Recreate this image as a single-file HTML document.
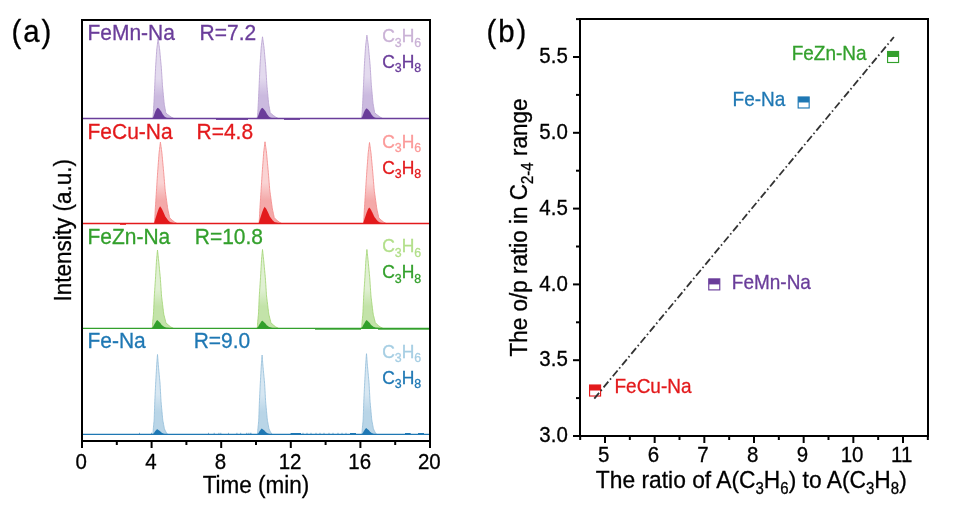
<!DOCTYPE html>
<html><head><meta charset="utf-8"><style>
html,body{margin:0;padding:0;background:#fff;width:953px;height:514px;overflow:hidden}
svg{display:block;will-change:transform}
text{font-family:"Liberation Sans", Arial, sans-serif;}
</style></head><body>
<svg width="953" height="514" viewBox="0 0 953 514">
<rect width="953" height="514" fill="#fff"/>

<defs><linearGradient id="g_purple" x1="0" y1="0" x2="0" y2="1"><stop offset="0" stop-color="#e3daee"/><stop offset="0.5" stop-color="#e3daee"/><stop offset="0.72" stop-color="#cbbadf"/><stop offset="1" stop-color="#cbbadf"/></linearGradient><linearGradient id="g_red" x1="0" y1="0" x2="0" y2="1"><stop offset="0" stop-color="#fad3d3"/><stop offset="0.5" stop-color="#fad3d3"/><stop offset="0.72" stop-color="#f4a9a9"/><stop offset="1" stop-color="#f4a9a9"/></linearGradient><linearGradient id="g_green" x1="0" y1="0" x2="0" y2="1"><stop offset="0" stop-color="#e0f0d3"/><stop offset="0.5" stop-color="#e0f0d3"/><stop offset="0.72" stop-color="#c3e3a9"/><stop offset="1" stop-color="#c3e3a9"/></linearGradient><linearGradient id="g_blue" x1="0" y1="0" x2="0" y2="1"><stop offset="0" stop-color="#d7e7f2"/><stop offset="0.5" stop-color="#d7e7f2"/><stop offset="0.72" stop-color="#b9d5e7"/><stop offset="1" stop-color="#b9d5e7"/></linearGradient></defs>
<path d="M152.52,118.50 L152.96,117.08 L153.11,115.65 L153.26,114.22 L153.39,112.80 L153.47,111.38 L153.54,109.95 L153.62,108.53 L153.70,107.10 L153.78,105.67 L153.86,104.25 L153.93,102.83 L154.00,101.40 L154.07,99.97 L154.14,98.55 L154.21,97.12 L154.27,95.70 L154.34,94.28 L154.41,92.85 L154.48,91.43 L154.55,90.00 L154.62,88.58 L154.69,87.15 L154.75,85.72 L154.82,84.30 L154.88,82.88 L154.95,81.45 L155.01,80.03 L155.08,78.60 L155.14,77.18 L155.21,75.75 L155.27,74.33 L155.34,72.90 L155.40,71.47 L155.47,70.05 L155.53,68.62 L155.60,67.20 L155.70,65.78 L155.79,64.35 L155.89,62.93 L155.98,61.50 L156.07,60.08 L156.17,58.65 L156.26,57.23 L156.35,55.80 L156.45,54.38 L156.54,52.95 L156.64,51.53 L156.73,50.10 L156.85,48.67 L157.03,47.25 L157.21,45.83 L157.38,44.40 L157.56,42.98 L157.74,41.55 L157.92,40.12 L158.10,38.70 L158.10,38.70 L158.30,40.12 L158.51,41.55 L158.71,42.98 L158.92,44.40 L159.12,45.83 L159.33,47.25 L159.53,48.67 L159.68,50.10 L159.82,51.53 L159.95,52.95 L160.08,54.38 L160.22,55.80 L160.35,57.23 L160.49,58.65 L160.62,60.08 L160.75,61.50 L160.89,62.93 L161.02,64.35 L161.15,65.78 L161.29,67.20 L161.38,68.62 L161.47,70.05 L161.56,71.47 L161.66,72.90 L161.75,74.33 L161.84,75.75 L161.93,77.18 L162.02,78.60 L162.11,80.03 L162.20,81.45 L162.29,82.88 L162.38,84.30 L162.47,85.72 L162.60,87.15 L162.74,88.58 L162.88,90.00 L163.01,91.43 L163.15,92.85 L163.29,94.28 L163.43,95.70 L163.56,97.12 L163.70,98.55 L163.84,99.97 L163.97,101.40 L164.11,102.83 L164.26,104.25 L164.52,105.67 L164.78,107.10 L165.04,108.53 L165.30,109.95 L165.56,111.38 L165.82,112.80 L167.19,114.22 L169.18,115.65 L171.17,117.08 L173.91,118.50 Z" fill="url(#g_purple)" stroke="#bba5d2" stroke-width="0.9"/>
<path d="M256.92,118.50 L257.36,117.04 L257.51,115.58 L257.66,114.12 L257.79,112.66 L257.87,111.21 L257.94,109.75 L258.02,108.29 L258.10,106.83 L258.18,105.37 L258.26,103.91 L258.33,102.45 L258.40,100.99 L258.47,99.53 L258.54,98.08 L258.61,96.62 L258.67,95.16 L258.74,93.70 L258.81,92.24 L258.88,90.78 L258.95,89.32 L259.02,87.86 L259.09,86.40 L259.15,84.94 L259.22,83.49 L259.28,82.03 L259.35,80.57 L259.41,79.11 L259.48,77.65 L259.54,76.19 L259.61,74.73 L259.67,73.27 L259.74,71.81 L259.80,70.36 L259.87,68.90 L259.93,67.44 L260.00,65.98 L260.10,64.52 L260.19,63.06 L260.29,61.60 L260.38,60.14 L260.47,58.68 L260.57,57.22 L260.66,55.77 L260.75,54.31 L260.85,52.85 L260.94,51.39 L261.04,49.93 L261.13,48.47 L261.25,47.01 L261.43,45.55 L261.61,44.09 L261.78,42.64 L261.96,41.18 L262.14,39.72 L262.32,38.26 L262.50,36.80 L262.50,36.80 L262.70,38.26 L262.91,39.72 L263.11,41.18 L263.32,42.64 L263.52,44.09 L263.73,45.55 L263.93,47.01 L264.08,48.47 L264.22,49.93 L264.35,51.39 L264.48,52.85 L264.62,54.31 L264.75,55.77 L264.89,57.22 L265.02,58.68 L265.15,60.14 L265.29,61.60 L265.42,63.06 L265.55,64.52 L265.69,65.98 L265.78,67.44 L265.87,68.90 L265.96,70.36 L266.06,71.81 L266.15,73.27 L266.24,74.73 L266.33,76.19 L266.42,77.65 L266.51,79.11 L266.60,80.57 L266.69,82.03 L266.78,83.49 L266.87,84.94 L267.00,86.40 L267.14,87.86 L267.28,89.32 L267.41,90.78 L267.55,92.24 L267.69,93.70 L267.83,95.16 L267.96,96.62 L268.10,98.08 L268.24,99.53 L268.37,100.99 L268.51,102.45 L268.66,103.91 L268.92,105.37 L269.18,106.83 L269.44,108.29 L269.70,109.75 L269.96,111.21 L270.22,112.66 L271.59,114.12 L273.58,115.58 L275.57,117.04 L278.31,118.50 Z" fill="url(#g_purple)" stroke="#bba5d2" stroke-width="0.9"/>
<path d="M361.32,118.50 L361.76,117.01 L361.91,115.53 L362.06,114.04 L362.19,112.55 L362.27,111.06 L362.34,109.58 L362.42,108.09 L362.50,106.60 L362.58,105.11 L362.66,103.62 L362.73,102.14 L362.80,100.65 L362.87,99.16 L362.94,97.67 L363.01,96.19 L363.07,94.70 L363.14,93.21 L363.21,91.73 L363.28,90.24 L363.35,88.75 L363.42,87.26 L363.49,85.78 L363.55,84.29 L363.62,82.80 L363.68,81.31 L363.75,79.83 L363.81,78.34 L363.88,76.85 L363.94,75.36 L364.01,73.88 L364.07,72.39 L364.14,70.90 L364.20,69.41 L364.27,67.93 L364.33,66.44 L364.40,64.95 L364.50,63.46 L364.59,61.98 L364.69,60.49 L364.78,59.00 L364.87,57.51 L364.97,56.03 L365.06,54.54 L365.15,53.05 L365.25,51.56 L365.34,50.08 L365.44,48.59 L365.53,47.10 L365.65,45.61 L365.83,44.13 L366.01,42.64 L366.18,41.15 L366.36,39.66 L366.54,38.18 L366.72,36.69 L366.90,35.20 L366.90,35.20 L367.10,36.69 L367.31,38.18 L367.51,39.66 L367.72,41.15 L367.92,42.64 L368.13,44.13 L368.33,45.61 L368.48,47.10 L368.62,48.59 L368.75,50.08 L368.88,51.56 L369.02,53.05 L369.15,54.54 L369.29,56.03 L369.42,57.51 L369.55,59.00 L369.69,60.49 L369.82,61.98 L369.95,63.46 L370.09,64.95 L370.18,66.44 L370.27,67.93 L370.36,69.41 L370.46,70.90 L370.55,72.39 L370.64,73.88 L370.73,75.36 L370.82,76.85 L370.91,78.34 L371.00,79.83 L371.09,81.31 L371.18,82.80 L371.27,84.29 L371.40,85.78 L371.54,87.26 L371.68,88.75 L371.81,90.24 L371.95,91.73 L372.09,93.21 L372.23,94.70 L372.36,96.19 L372.50,97.67 L372.64,99.16 L372.77,100.65 L372.91,102.14 L373.06,103.62 L373.32,105.11 L373.58,106.60 L373.84,108.09 L374.10,109.58 L374.36,111.06 L374.62,112.55 L375.99,114.04 L377.98,115.53 L379.97,117.01 L382.71,118.50 Z" fill="url(#g_purple)" stroke="#bba5d2" stroke-width="0.9"/>
<path d="M152.10,118.50 L152.55,118.31 L152.70,118.11 L152.86,117.92 L152.98,117.73 L153.07,117.54 L153.15,117.34 L153.23,117.15 L153.31,116.96 L153.39,116.76 L153.47,116.57 L153.54,116.38 L153.61,116.19 L153.68,115.99 L153.75,115.80 L153.82,115.61 L153.89,115.41 L153.96,115.22 L154.03,115.03 L154.10,114.84 L154.17,114.64 L154.24,114.45 L154.31,114.26 L154.38,114.06 L154.45,113.87 L154.52,113.68 L154.58,113.49 L154.65,113.29 L154.71,113.10 L154.78,112.91 L154.85,112.71 L154.91,112.52 L154.98,112.33 L155.05,112.14 L155.11,111.94 L155.18,111.75 L155.25,111.56 L155.35,111.36 L155.44,111.17 L155.54,110.98 L155.63,110.79 L155.73,110.59 L155.83,110.40 L155.92,110.21 L156.02,110.01 L156.11,109.82 L156.21,109.63 L156.31,109.44 L156.40,109.24 L156.52,109.05 L156.70,108.86 L156.89,108.66 L157.07,108.47 L157.25,108.28 L157.43,108.09 L157.62,107.89 L157.80,107.70 L157.80,107.70 L158.02,107.89 L158.25,108.09 L158.47,108.28 L158.70,108.47 L158.92,108.66 L159.15,108.86 L159.37,109.05 L159.54,109.24 L159.68,109.44 L159.83,109.63 L159.98,109.82 L160.12,110.01 L160.27,110.21 L160.42,110.40 L160.56,110.59 L160.71,110.79 L160.86,110.98 L161.00,111.17 L161.15,111.36 L161.30,111.56 L161.40,111.75 L161.50,111.94 L161.60,112.14 L161.70,112.33 L161.80,112.52 L161.90,112.71 L162.00,112.91 L162.10,113.10 L162.19,113.29 L162.29,113.49 L162.39,113.68 L162.49,113.87 L162.59,114.06 L162.74,114.26 L162.89,114.45 L163.04,114.64 L163.19,114.84 L163.34,115.03 L163.49,115.22 L163.64,115.41 L163.79,115.61 L163.94,115.80 L164.09,115.99 L164.24,116.19 L164.39,116.38 L164.55,116.57 L164.84,116.76 L165.12,116.96 L165.41,117.15 L165.70,117.34 L165.98,117.54 L166.27,117.73 L167.77,117.92 L169.95,118.11 L172.14,118.31 L175.14,118.50 Z" fill="#6a3d9a"/>
<path d="M256.50,118.50 L256.95,118.31 L257.10,118.11 L257.26,117.92 L257.38,117.73 L257.47,117.54 L257.55,117.34 L257.63,117.15 L257.71,116.96 L257.79,116.76 L257.87,116.57 L257.94,116.38 L258.01,116.19 L258.08,115.99 L258.15,115.80 L258.22,115.61 L258.29,115.41 L258.36,115.22 L258.43,115.03 L258.50,114.84 L258.57,114.64 L258.64,114.45 L258.71,114.26 L258.78,114.06 L258.85,113.87 L258.92,113.68 L258.98,113.49 L259.05,113.29 L259.11,113.10 L259.18,112.91 L259.25,112.71 L259.31,112.52 L259.38,112.33 L259.45,112.14 L259.51,111.94 L259.58,111.75 L259.65,111.56 L259.75,111.36 L259.84,111.17 L259.94,110.98 L260.03,110.79 L260.13,110.59 L260.23,110.40 L260.32,110.21 L260.42,110.01 L260.51,109.82 L260.61,109.63 L260.71,109.44 L260.80,109.24 L260.92,109.05 L261.10,108.86 L261.29,108.66 L261.47,108.47 L261.65,108.28 L261.83,108.09 L262.02,107.89 L262.20,107.70 L262.20,107.70 L262.42,107.89 L262.65,108.09 L262.87,108.28 L263.10,108.47 L263.32,108.66 L263.55,108.86 L263.77,109.05 L263.94,109.24 L264.08,109.44 L264.23,109.63 L264.38,109.82 L264.52,110.01 L264.67,110.21 L264.82,110.40 L264.96,110.59 L265.11,110.79 L265.26,110.98 L265.40,111.17 L265.55,111.36 L265.70,111.56 L265.80,111.75 L265.90,111.94 L266.00,112.14 L266.10,112.33 L266.20,112.52 L266.30,112.71 L266.40,112.91 L266.50,113.10 L266.59,113.29 L266.69,113.49 L266.79,113.68 L266.89,113.87 L266.99,114.06 L267.14,114.26 L267.29,114.45 L267.44,114.64 L267.59,114.84 L267.74,115.03 L267.89,115.22 L268.04,115.41 L268.19,115.61 L268.34,115.80 L268.49,115.99 L268.64,116.19 L268.79,116.38 L268.95,116.57 L269.24,116.76 L269.52,116.96 L269.81,117.15 L270.10,117.34 L270.38,117.54 L270.67,117.73 L272.17,117.92 L274.35,118.11 L276.54,118.31 L279.54,118.50 Z" fill="#6a3d9a"/>
<path d="M360.90,118.50 L361.35,118.32 L361.50,118.14 L361.66,117.95 L361.78,117.77 L361.87,117.59 L361.95,117.41 L362.03,117.22 L362.11,117.04 L362.19,116.86 L362.27,116.68 L362.34,116.50 L362.41,116.31 L362.48,116.13 L362.55,115.95 L362.62,115.77 L362.69,115.59 L362.76,115.40 L362.83,115.22 L362.90,115.04 L362.97,114.86 L363.04,114.67 L363.11,114.49 L363.18,114.31 L363.25,114.13 L363.32,113.95 L363.38,113.76 L363.45,113.58 L363.51,113.40 L363.58,113.22 L363.65,113.04 L363.71,112.85 L363.78,112.67 L363.85,112.49 L363.91,112.31 L363.98,112.12 L364.05,111.94 L364.15,111.76 L364.24,111.58 L364.34,111.40 L364.43,111.21 L364.53,111.03 L364.63,110.85 L364.72,110.67 L364.82,110.49 L364.91,110.30 L365.01,110.12 L365.11,109.94 L365.20,109.76 L365.32,109.58 L365.50,109.39 L365.69,109.21 L365.87,109.03 L366.05,108.85 L366.23,108.66 L366.42,108.48 L366.60,108.30 L366.60,108.30 L366.82,108.48 L367.05,108.66 L367.27,108.85 L367.50,109.03 L367.72,109.21 L367.95,109.39 L368.17,109.58 L368.34,109.76 L368.48,109.94 L368.63,110.12 L368.78,110.30 L368.92,110.49 L369.07,110.67 L369.22,110.85 L369.36,111.03 L369.51,111.21 L369.66,111.40 L369.80,111.58 L369.95,111.76 L370.10,111.94 L370.20,112.12 L370.30,112.31 L370.40,112.49 L370.50,112.67 L370.60,112.85 L370.70,113.04 L370.80,113.22 L370.90,113.40 L370.99,113.58 L371.09,113.76 L371.19,113.95 L371.29,114.13 L371.39,114.31 L371.54,114.49 L371.69,114.67 L371.84,114.86 L371.99,115.04 L372.14,115.22 L372.29,115.40 L372.44,115.59 L372.59,115.77 L372.74,115.95 L372.89,116.13 L373.04,116.31 L373.19,116.50 L373.35,116.68 L373.64,116.86 L373.92,117.04 L374.21,117.22 L374.50,117.41 L374.78,117.59 L375.07,117.77 L376.57,117.95 L378.75,118.14 L380.94,118.32 L383.94,118.50 Z" fill="#6a3d9a"/>
<line x1="83" y1="118.5" x2="429" y2="118.5" stroke="#6a3d9a" stroke-width="1.3"/>
<path d="M154.26,223.50 L154.58,222.05 L154.67,220.60 L154.76,219.14 L154.85,217.69 L154.92,216.24 L154.99,214.79 L155.06,213.34 L155.13,211.89 L155.21,210.43 L155.28,208.98 L155.37,207.53 L155.47,206.08 L155.56,204.63 L155.65,203.18 L155.75,201.72 L155.84,200.27 L155.93,198.82 L156.03,197.37 L156.12,195.92 L156.22,194.46 L156.31,193.01 L156.40,191.56 L156.50,190.11 L156.59,188.66 L156.69,187.21 L156.78,185.75 L156.87,184.30 L156.97,182.85 L157.06,181.40 L157.15,179.95 L157.25,178.49 L157.34,177.04 L157.44,175.59 L157.53,174.14 L157.62,172.69 L157.72,171.24 L157.83,169.78 L157.94,168.33 L158.05,166.88 L158.15,165.43 L158.26,163.98 L158.37,162.52 L158.48,161.07 L158.59,159.62 L158.70,158.17 L158.80,156.72 L158.91,155.27 L159.02,153.81 L159.15,152.36 L159.33,150.91 L159.51,149.46 L159.68,148.01 L159.86,146.56 L160.04,145.10 L160.22,143.65 L160.40,142.20 L160.40,142.20 L160.60,143.65 L160.81,145.10 L161.01,146.56 L161.22,148.01 L161.42,149.46 L161.63,150.91 L161.83,152.36 L161.98,153.81 L162.12,155.27 L162.25,156.72 L162.38,158.17 L162.52,159.62 L162.65,161.07 L162.79,162.52 L162.92,163.98 L163.05,165.43 L163.19,166.88 L163.32,168.33 L163.45,169.78 L163.59,171.24 L163.71,172.69 L163.83,174.14 L163.95,175.59 L164.07,177.04 L164.19,178.49 L164.30,179.95 L164.42,181.40 L164.54,182.85 L164.66,184.30 L164.78,185.75 L164.90,187.21 L165.02,188.66 L165.14,190.11 L165.34,191.56 L165.54,193.01 L165.74,194.46 L165.94,195.92 L166.15,197.37 L166.35,198.82 L166.55,200.27 L166.75,201.72 L166.95,203.18 L167.16,204.63 L167.36,206.08 L167.56,207.53 L167.77,208.98 L168.09,210.43 L168.41,211.89 L168.73,213.34 L169.04,214.79 L169.36,216.24 L169.68,217.69 L170.93,219.14 L172.71,220.60 L174.50,222.05 L177.14,223.50 Z" fill="url(#g_red)" stroke="#f48e8e" stroke-width="0.9"/>
<path d="M258.86,223.50 L259.18,222.04 L259.27,220.58 L259.36,219.12 L259.45,217.66 L259.52,216.21 L259.59,214.75 L259.66,213.29 L259.73,211.83 L259.81,210.37 L259.88,208.91 L259.97,207.45 L260.07,205.99 L260.16,204.53 L260.25,203.07 L260.35,201.62 L260.44,200.16 L260.53,198.70 L260.63,197.24 L260.72,195.78 L260.82,194.32 L260.91,192.86 L261.00,191.40 L261.10,189.94 L261.19,188.49 L261.29,187.03 L261.38,185.57 L261.47,184.11 L261.57,182.65 L261.66,181.19 L261.75,179.73 L261.85,178.27 L261.94,176.81 L262.04,175.36 L262.13,173.90 L262.22,172.44 L262.32,170.98 L262.43,169.52 L262.54,168.06 L262.65,166.60 L262.75,165.14 L262.86,163.68 L262.97,162.23 L263.08,160.77 L263.19,159.31 L263.30,157.85 L263.40,156.39 L263.51,154.93 L263.62,153.47 L263.75,152.01 L263.93,150.55 L264.11,149.09 L264.28,147.64 L264.46,146.18 L264.64,144.72 L264.82,143.26 L265.00,141.80 L265.00,141.80 L265.20,143.26 L265.41,144.72 L265.61,146.18 L265.82,147.64 L266.02,149.09 L266.23,150.55 L266.43,152.01 L266.58,153.47 L266.72,154.93 L266.85,156.39 L266.98,157.85 L267.12,159.31 L267.25,160.77 L267.39,162.23 L267.52,163.68 L267.65,165.14 L267.79,166.60 L267.92,168.06 L268.05,169.52 L268.19,170.98 L268.31,172.44 L268.43,173.90 L268.55,175.36 L268.67,176.81 L268.79,178.27 L268.90,179.73 L269.02,181.19 L269.14,182.65 L269.26,184.11 L269.38,185.57 L269.50,187.03 L269.62,188.49 L269.74,189.94 L269.94,191.40 L270.14,192.86 L270.34,194.32 L270.54,195.78 L270.75,197.24 L270.95,198.70 L271.15,200.16 L271.35,201.62 L271.55,203.07 L271.76,204.53 L271.96,205.99 L272.16,207.45 L272.37,208.91 L272.69,210.37 L273.01,211.83 L273.33,213.29 L273.64,214.75 L273.96,216.21 L274.28,217.66 L275.53,219.12 L277.31,220.58 L279.10,222.04 L281.74,223.50 Z" fill="url(#g_red)" stroke="#f48e8e" stroke-width="0.9"/>
<path d="M363.36,223.50 L363.68,222.05 L363.77,220.61 L363.86,219.16 L363.95,217.71 L364.02,216.27 L364.09,214.82 L364.16,213.38 L364.23,211.93 L364.31,210.48 L364.38,209.04 L364.47,207.59 L364.57,206.14 L364.66,204.70 L364.75,203.25 L364.85,201.80 L364.94,200.36 L365.03,198.91 L365.13,197.46 L365.22,196.02 L365.32,194.57 L365.41,193.12 L365.50,191.68 L365.60,190.23 L365.69,188.79 L365.79,187.34 L365.88,185.89 L365.97,184.45 L366.07,183.00 L366.16,181.55 L366.25,180.11 L366.35,178.66 L366.44,177.21 L366.54,175.77 L366.63,174.32 L366.72,172.88 L366.82,171.43 L366.93,169.98 L367.04,168.54 L367.15,167.09 L367.25,165.64 L367.36,164.20 L367.47,162.75 L367.58,161.30 L367.69,159.86 L367.80,158.41 L367.90,156.96 L368.01,155.52 L368.12,154.07 L368.25,152.62 L368.43,151.18 L368.61,149.73 L368.78,148.29 L368.96,146.84 L369.14,145.39 L369.32,143.95 L369.50,142.50 L369.50,142.50 L369.70,143.95 L369.91,145.39 L370.11,146.84 L370.32,148.29 L370.52,149.73 L370.73,151.18 L370.93,152.62 L371.08,154.07 L371.22,155.52 L371.35,156.96 L371.48,158.41 L371.62,159.86 L371.75,161.30 L371.89,162.75 L372.02,164.20 L372.15,165.64 L372.29,167.09 L372.42,168.54 L372.55,169.98 L372.69,171.43 L372.81,172.88 L372.93,174.32 L373.05,175.77 L373.17,177.21 L373.29,178.66 L373.40,180.11 L373.52,181.55 L373.64,183.00 L373.76,184.45 L373.88,185.89 L374.00,187.34 L374.12,188.79 L374.24,190.23 L374.44,191.68 L374.64,193.12 L374.84,194.57 L375.04,196.02 L375.25,197.46 L375.45,198.91 L375.65,200.36 L375.85,201.80 L376.05,203.25 L376.26,204.70 L376.46,206.14 L376.66,207.59 L376.87,209.04 L377.19,210.48 L377.51,211.93 L377.83,213.38 L378.14,214.82 L378.46,216.27 L378.78,217.71 L380.03,219.16 L381.81,220.61 L383.60,222.05 L386.24,223.50 Z" fill="url(#g_red)" stroke="#f48e8e" stroke-width="0.9"/>
<path d="M153.83,223.50 L154.16,223.19 L154.25,222.89 L154.34,222.58 L154.43,222.27 L154.50,221.96 L154.57,221.66 L154.65,221.35 L154.72,221.04 L154.80,220.74 L154.87,220.43 L154.96,220.12 L155.06,219.81 L155.15,219.51 L155.25,219.20 L155.35,218.89 L155.44,218.59 L155.54,218.28 L155.63,217.97 L155.73,217.66 L155.83,217.36 L155.92,217.05 L156.02,216.74 L156.11,216.44 L156.21,216.13 L156.31,215.82 L156.40,215.51 L156.50,215.21 L156.59,214.90 L156.69,214.59 L156.79,214.29 L156.88,213.98 L156.98,213.67 L157.07,213.36 L157.17,213.06 L157.26,212.75 L157.36,212.44 L157.47,212.14 L157.58,211.83 L157.69,211.52 L157.81,211.21 L157.92,210.91 L158.03,210.60 L158.14,210.29 L158.25,209.99 L158.36,209.68 L158.47,209.37 L158.58,209.06 L158.69,208.76 L158.82,208.45 L159.00,208.14 L159.19,207.84 L159.37,207.53 L159.55,207.22 L159.73,206.91 L159.92,206.61 L160.10,206.30 L160.10,206.30 L160.32,206.61 L160.55,206.91 L160.77,207.22 L161.00,207.53 L161.22,207.84 L161.45,208.14 L161.67,208.45 L161.84,208.76 L161.98,209.06 L162.13,209.37 L162.28,209.68 L162.42,209.99 L162.57,210.29 L162.72,210.60 L162.86,210.91 L163.01,211.21 L163.16,211.52 L163.30,211.83 L163.45,212.14 L163.60,212.44 L163.73,212.75 L163.86,213.06 L163.99,213.36 L164.12,213.67 L164.25,213.98 L164.38,214.29 L164.51,214.59 L164.64,214.90 L164.77,215.21 L164.90,215.51 L165.04,215.82 L165.17,216.13 L165.30,216.44 L165.51,216.74 L165.74,217.05 L165.96,217.36 L166.18,217.66 L166.40,217.97 L166.62,218.28 L166.85,218.59 L167.07,218.89 L167.29,219.20 L167.51,219.51 L167.73,219.81 L167.95,220.12 L168.19,220.43 L168.53,220.74 L168.88,221.04 L169.23,221.35 L169.58,221.66 L169.93,221.96 L170.28,222.27 L171.65,222.58 L173.61,222.89 L175.56,223.19 L178.46,223.50 Z" fill="#e31a1c"/>
<path d="M258.43,223.50 L258.76,223.20 L258.85,222.90 L258.94,222.61 L259.03,222.31 L259.10,222.01 L259.17,221.71 L259.25,221.41 L259.32,221.11 L259.40,220.82 L259.47,220.52 L259.56,220.22 L259.66,219.92 L259.75,219.62 L259.85,219.32 L259.95,219.03 L260.04,218.73 L260.14,218.43 L260.23,218.13 L260.33,217.83 L260.43,217.54 L260.52,217.24 L260.62,216.94 L260.71,216.64 L260.81,216.34 L260.91,216.04 L261.00,215.75 L261.10,215.45 L261.19,215.15 L261.29,214.85 L261.39,214.55 L261.48,214.26 L261.58,213.96 L261.67,213.66 L261.77,213.36 L261.86,213.06 L261.96,212.76 L262.07,212.47 L262.18,212.17 L262.29,211.87 L262.41,211.57 L262.52,211.27 L262.63,210.98 L262.74,210.68 L262.85,210.38 L262.96,210.08 L263.07,209.78 L263.18,209.48 L263.29,209.19 L263.42,208.89 L263.60,208.59 L263.79,208.29 L263.97,207.99 L264.15,207.69 L264.33,207.40 L264.52,207.10 L264.70,206.80 L264.70,206.80 L264.92,207.10 L265.15,207.40 L265.37,207.69 L265.60,207.99 L265.82,208.29 L266.05,208.59 L266.27,208.89 L266.44,209.19 L266.58,209.48 L266.73,209.78 L266.88,210.08 L267.02,210.38 L267.17,210.68 L267.32,210.98 L267.46,211.27 L267.61,211.57 L267.76,211.87 L267.90,212.17 L268.05,212.47 L268.20,212.76 L268.33,213.06 L268.46,213.36 L268.59,213.66 L268.72,213.96 L268.85,214.26 L268.98,214.55 L269.11,214.85 L269.24,215.15 L269.37,215.45 L269.50,215.75 L269.64,216.04 L269.77,216.34 L269.90,216.64 L270.11,216.94 L270.34,217.24 L270.56,217.54 L270.78,217.83 L271.00,218.13 L271.22,218.43 L271.45,218.73 L271.67,219.03 L271.89,219.32 L272.11,219.62 L272.33,219.92 L272.55,220.22 L272.79,220.52 L273.13,220.82 L273.48,221.11 L273.83,221.41 L274.18,221.71 L274.53,222.01 L274.88,222.31 L276.25,222.61 L278.21,222.90 L280.16,223.20 L283.06,223.50 Z" fill="#e31a1c"/>
<path d="M362.93,223.50 L363.26,223.21 L363.35,222.93 L363.44,222.64 L363.53,222.35 L363.60,222.06 L363.67,221.78 L363.75,221.49 L363.82,221.20 L363.90,220.91 L363.97,220.62 L364.06,220.34 L364.16,220.05 L364.25,219.76 L364.35,219.47 L364.45,219.19 L364.54,218.90 L364.64,218.61 L364.73,218.32 L364.83,218.04 L364.93,217.75 L365.02,217.46 L365.12,217.18 L365.21,216.89 L365.31,216.60 L365.41,216.31 L365.50,216.03 L365.60,215.74 L365.69,215.45 L365.79,215.16 L365.89,214.88 L365.98,214.59 L366.08,214.30 L366.17,214.01 L366.27,213.72 L366.36,213.44 L366.46,213.15 L366.57,212.86 L366.68,212.58 L366.79,212.29 L366.91,212.00 L367.02,211.71 L367.13,211.43 L367.24,211.14 L367.35,210.85 L367.46,210.56 L367.57,210.28 L367.68,209.99 L367.79,209.70 L367.92,209.41 L368.10,209.12 L368.29,208.84 L368.47,208.55 L368.65,208.26 L368.83,207.97 L369.02,207.69 L369.20,207.40 L369.20,207.40 L369.42,207.69 L369.65,207.97 L369.87,208.26 L370.10,208.55 L370.32,208.84 L370.55,209.12 L370.77,209.41 L370.94,209.70 L371.08,209.99 L371.23,210.28 L371.38,210.56 L371.52,210.85 L371.67,211.14 L371.82,211.43 L371.96,211.71 L372.11,212.00 L372.26,212.29 L372.40,212.58 L372.55,212.86 L372.70,213.15 L372.83,213.44 L372.96,213.72 L373.09,214.01 L373.22,214.30 L373.35,214.59 L373.48,214.88 L373.61,215.16 L373.74,215.45 L373.87,215.74 L374.00,216.03 L374.14,216.31 L374.27,216.60 L374.40,216.89 L374.61,217.18 L374.84,217.46 L375.06,217.75 L375.28,218.04 L375.50,218.32 L375.72,218.61 L375.95,218.90 L376.17,219.19 L376.39,219.47 L376.61,219.76 L376.83,220.05 L377.05,220.34 L377.29,220.62 L377.63,220.91 L377.98,221.20 L378.33,221.49 L378.68,221.78 L379.03,222.06 L379.38,222.35 L380.75,222.64 L382.71,222.93 L384.66,223.21 L387.56,223.50 Z" fill="#e31a1c"/>
<line x1="83" y1="223.5" x2="429" y2="223.5" stroke="#e31a1c" stroke-width="1.3"/>
<path d="M152.11,328.30 L152.41,326.90 L152.47,325.51 L152.53,324.11 L152.62,322.71 L152.76,321.32 L152.89,319.92 L153.03,318.53 L153.17,317.13 L153.31,315.73 L153.44,314.34 L153.51,312.94 L153.58,311.54 L153.64,310.15 L153.71,308.75 L153.77,307.35 L153.84,305.96 L153.90,304.56 L153.97,303.16 L154.03,301.77 L154.10,300.37 L154.16,298.98 L154.23,297.58 L154.30,296.18 L154.39,294.79 L154.48,293.39 L154.58,291.99 L154.67,290.60 L154.76,289.20 L154.86,287.80 L154.95,286.41 L155.05,285.01 L155.14,283.61 L155.23,282.22 L155.33,280.82 L155.42,279.43 L155.51,278.03 L155.59,276.63 L155.67,275.24 L155.75,273.84 L155.83,272.44 L155.91,271.05 L155.99,269.65 L156.07,268.25 L156.15,266.86 L156.23,265.46 L156.31,264.06 L156.39,262.67 L156.47,261.27 L156.56,259.88 L156.70,258.48 L156.83,257.08 L156.96,255.69 L157.10,254.29 L157.23,252.89 L157.37,251.50 L157.50,250.10 L157.50,250.10 L157.65,251.50 L157.81,252.89 L157.96,254.29 L158.11,255.69 L158.27,257.08 L158.42,258.48 L158.57,259.88 L158.71,261.27 L158.85,262.67 L158.98,264.06 L159.11,265.46 L159.25,266.86 L159.38,268.25 L159.51,269.65 L159.65,271.05 L159.78,272.44 L159.91,273.84 L160.05,275.24 L160.18,276.63 L160.32,278.03 L160.42,279.43 L160.51,280.82 L160.60,282.22 L160.70,283.61 L160.79,285.01 L160.88,286.41 L160.98,287.80 L161.07,289.20 L161.17,290.60 L161.26,291.99 L161.35,293.39 L161.45,294.79 L161.54,296.18 L161.71,297.58 L161.89,298.98 L162.06,300.37 L162.23,301.77 L162.41,303.16 L162.58,304.56 L162.75,305.96 L162.92,307.35 L163.10,308.75 L163.27,310.15 L163.44,311.54 L163.62,312.94 L163.81,314.34 L164.16,315.73 L164.51,317.13 L164.87,318.53 L165.22,319.92 L165.57,321.32 L165.93,322.71 L167.18,324.11 L168.93,325.51 L170.68,326.90 L173.31,328.30 Z" fill="url(#g_green)" stroke="#a5d678" stroke-width="0.9"/>
<path d="M257.11,328.30 L257.41,326.89 L257.47,325.49 L257.53,324.08 L257.62,322.67 L257.76,321.26 L257.89,319.86 L258.03,318.45 L258.17,317.04 L258.31,315.64 L258.44,314.23 L258.51,312.82 L258.58,311.41 L258.64,310.01 L258.71,308.60 L258.77,307.19 L258.84,305.79 L258.90,304.38 L258.97,302.97 L259.03,301.56 L259.10,300.16 L259.16,298.75 L259.23,297.34 L259.30,295.94 L259.39,294.53 L259.48,293.12 L259.58,291.71 L259.67,290.31 L259.76,288.90 L259.86,287.49 L259.95,286.09 L260.05,284.68 L260.14,283.27 L260.23,281.86 L260.33,280.46 L260.42,279.05 L260.51,277.64 L260.59,276.24 L260.67,274.83 L260.75,273.42 L260.83,272.01 L260.91,270.61 L260.99,269.20 L261.07,267.79 L261.15,266.39 L261.23,264.98 L261.31,263.57 L261.39,262.16 L261.47,260.76 L261.56,259.35 L261.70,257.94 L261.83,256.54 L261.96,255.13 L262.10,253.72 L262.23,252.31 L262.37,250.91 L262.50,249.50 L262.50,249.50 L262.65,250.91 L262.81,252.31 L262.96,253.72 L263.11,255.13 L263.27,256.54 L263.42,257.94 L263.57,259.35 L263.71,260.76 L263.85,262.16 L263.98,263.57 L264.11,264.98 L264.25,266.39 L264.38,267.79 L264.51,269.20 L264.65,270.61 L264.78,272.01 L264.91,273.42 L265.05,274.83 L265.18,276.24 L265.32,277.64 L265.42,279.05 L265.51,280.46 L265.60,281.86 L265.70,283.27 L265.79,284.68 L265.88,286.09 L265.98,287.49 L266.07,288.90 L266.17,290.31 L266.26,291.71 L266.35,293.12 L266.45,294.53 L266.54,295.94 L266.71,297.34 L266.89,298.75 L267.06,300.16 L267.23,301.56 L267.41,302.97 L267.58,304.38 L267.75,305.79 L267.92,307.19 L268.10,308.60 L268.27,310.01 L268.44,311.41 L268.62,312.82 L268.81,314.23 L269.16,315.64 L269.51,317.04 L269.87,318.45 L270.22,319.86 L270.57,321.26 L270.93,322.67 L272.18,324.08 L273.93,325.49 L275.68,326.89 L278.31,328.30 Z" fill="url(#g_green)" stroke="#a5d678" stroke-width="0.9"/>
<path d="M361.51,328.30 L361.81,326.89 L361.87,325.49 L361.93,324.08 L362.02,322.67 L362.16,321.26 L362.29,319.86 L362.43,318.45 L362.57,317.04 L362.71,315.64 L362.84,314.23 L362.91,312.82 L362.98,311.41 L363.04,310.01 L363.11,308.60 L363.17,307.19 L363.24,305.79 L363.30,304.38 L363.37,302.97 L363.43,301.56 L363.50,300.16 L363.56,298.75 L363.63,297.34 L363.70,295.94 L363.79,294.53 L363.88,293.12 L363.98,291.71 L364.07,290.31 L364.16,288.90 L364.26,287.49 L364.35,286.09 L364.45,284.68 L364.54,283.27 L364.63,281.86 L364.73,280.46 L364.82,279.05 L364.91,277.64 L364.99,276.24 L365.07,274.83 L365.15,273.42 L365.23,272.01 L365.31,270.61 L365.39,269.20 L365.47,267.79 L365.55,266.39 L365.63,264.98 L365.71,263.57 L365.79,262.16 L365.87,260.76 L365.96,259.35 L366.10,257.94 L366.23,256.54 L366.36,255.13 L366.50,253.72 L366.63,252.31 L366.77,250.91 L366.90,249.50 L366.90,249.50 L367.05,250.91 L367.21,252.31 L367.36,253.72 L367.51,255.13 L367.67,256.54 L367.82,257.94 L367.97,259.35 L368.11,260.76 L368.25,262.16 L368.38,263.57 L368.51,264.98 L368.65,266.39 L368.78,267.79 L368.91,269.20 L369.05,270.61 L369.18,272.01 L369.31,273.42 L369.45,274.83 L369.58,276.24 L369.72,277.64 L369.82,279.05 L369.91,280.46 L370.00,281.86 L370.10,283.27 L370.19,284.68 L370.28,286.09 L370.38,287.49 L370.47,288.90 L370.57,290.31 L370.66,291.71 L370.75,293.12 L370.85,294.53 L370.94,295.94 L371.11,297.34 L371.29,298.75 L371.46,300.16 L371.63,301.56 L371.81,302.97 L371.98,304.38 L372.15,305.79 L372.32,307.19 L372.50,308.60 L372.67,310.01 L372.84,311.41 L373.02,312.82 L373.21,314.23 L373.56,315.64 L373.91,317.04 L374.27,318.45 L374.62,319.86 L374.97,321.26 L375.33,322.67 L376.58,324.08 L378.33,325.49 L380.08,326.89 L382.71,328.30 Z" fill="url(#g_green)" stroke="#a5d678" stroke-width="0.9"/>
<path d="M151.69,328.30 L152.00,328.15 L152.06,328.00 L152.13,327.86 L152.22,327.71 L152.36,327.56 L152.50,327.41 L152.64,327.26 L152.78,327.11 L152.92,326.97 L153.06,326.82 L153.13,326.67 L153.19,326.52 L153.26,326.37 L153.33,326.23 L153.39,326.08 L153.46,325.93 L153.53,325.78 L153.59,325.63 L153.66,325.48 L153.73,325.34 L153.79,325.19 L153.86,325.04 L153.93,324.89 L154.02,324.74 L154.12,324.59 L154.21,324.45 L154.31,324.30 L154.41,324.15 L154.50,324.00 L154.60,323.85 L154.69,323.71 L154.79,323.56 L154.89,323.41 L154.98,323.26 L155.08,323.11 L155.17,322.96 L155.25,322.82 L155.33,322.67 L155.41,322.52 L155.50,322.37 L155.58,322.22 L155.66,322.07 L155.74,321.93 L155.82,321.78 L155.90,321.63 L155.98,321.48 L156.06,321.33 L156.14,321.19 L156.24,321.04 L156.38,320.89 L156.51,320.74 L156.65,320.59 L156.79,320.44 L156.93,320.30 L157.06,320.15 L157.20,320.00 L157.20,320.00 L157.37,320.15 L157.54,320.30 L157.70,320.44 L157.87,320.59 L158.04,320.74 L158.21,320.89 L158.38,321.04 L158.53,321.19 L158.68,321.33 L158.82,321.48 L158.97,321.63 L159.12,321.78 L159.26,321.93 L159.41,322.07 L159.56,322.22 L159.70,322.37 L159.85,322.52 L159.99,322.67 L160.14,322.82 L160.29,322.96 L160.40,323.11 L160.50,323.26 L160.60,323.41 L160.71,323.56 L160.81,323.71 L160.91,323.85 L161.02,324.00 L161.12,324.15 L161.22,324.30 L161.32,324.45 L161.43,324.59 L161.53,324.74 L161.63,324.89 L161.82,325.04 L162.01,325.19 L162.20,325.34 L162.39,325.48 L162.58,325.63 L162.77,325.78 L162.96,325.93 L163.15,326.08 L163.34,326.23 L163.53,326.37 L163.72,326.52 L163.91,326.67 L164.12,326.82 L164.50,326.97 L164.89,327.11 L165.28,327.26 L165.67,327.41 L166.06,327.56 L166.44,327.71 L167.81,327.86 L169.73,328.00 L171.65,328.15 L174.54,328.30 Z" fill="#33a02c"/>
<path d="M256.69,328.30 L257.00,328.16 L257.06,328.03 L257.13,327.89 L257.22,327.75 L257.36,327.61 L257.50,327.48 L257.64,327.34 L257.78,327.20 L257.92,327.06 L258.06,326.93 L258.13,326.79 L258.19,326.65 L258.26,326.51 L258.33,326.38 L258.39,326.24 L258.46,326.10 L258.53,325.96 L258.59,325.82 L258.66,325.69 L258.73,325.55 L258.79,325.41 L258.86,325.28 L258.93,325.14 L259.02,325.00 L259.12,324.86 L259.21,324.73 L259.31,324.59 L259.41,324.45 L259.50,324.31 L259.60,324.18 L259.69,324.04 L259.79,323.90 L259.89,323.76 L259.98,323.62 L260.08,323.49 L260.17,323.35 L260.25,323.21 L260.33,323.08 L260.41,322.94 L260.50,322.80 L260.58,322.66 L260.66,322.53 L260.74,322.39 L260.82,322.25 L260.90,322.11 L260.98,321.98 L261.06,321.84 L261.14,321.70 L261.24,321.56 L261.38,321.43 L261.51,321.29 L261.65,321.15 L261.79,321.01 L261.93,320.88 L262.06,320.74 L262.20,320.60 L262.20,320.60 L262.37,320.74 L262.54,320.88 L262.70,321.01 L262.87,321.15 L263.04,321.29 L263.21,321.43 L263.38,321.56 L263.53,321.70 L263.68,321.84 L263.82,321.98 L263.97,322.11 L264.12,322.25 L264.26,322.39 L264.41,322.53 L264.56,322.66 L264.70,322.80 L264.85,322.94 L264.99,323.08 L265.14,323.21 L265.29,323.35 L265.40,323.49 L265.50,323.62 L265.60,323.76 L265.71,323.90 L265.81,324.04 L265.91,324.18 L266.02,324.31 L266.12,324.45 L266.22,324.59 L266.32,324.73 L266.43,324.86 L266.53,325.00 L266.63,325.14 L266.82,325.28 L267.01,325.41 L267.20,325.55 L267.39,325.69 L267.58,325.82 L267.77,325.96 L267.96,326.10 L268.15,326.24 L268.34,326.38 L268.53,326.51 L268.72,326.65 L268.91,326.79 L269.12,326.93 L269.50,327.06 L269.89,327.20 L270.28,327.34 L270.67,327.48 L271.06,327.61 L271.44,327.75 L272.81,327.89 L274.73,328.03 L276.65,328.16 L279.54,328.30 Z" fill="#33a02c"/>
<path d="M361.09,328.30 L361.40,328.15 L361.46,328.00 L361.53,327.86 L361.62,327.71 L361.76,327.56 L361.90,327.41 L362.04,327.26 L362.18,327.11 L362.32,326.97 L362.46,326.82 L362.53,326.67 L362.59,326.52 L362.66,326.37 L362.73,326.23 L362.79,326.08 L362.86,325.93 L362.93,325.78 L362.99,325.63 L363.06,325.48 L363.13,325.34 L363.19,325.19 L363.26,325.04 L363.33,324.89 L363.42,324.74 L363.52,324.59 L363.61,324.45 L363.71,324.30 L363.81,324.15 L363.90,324.00 L364.00,323.85 L364.09,323.71 L364.19,323.56 L364.29,323.41 L364.38,323.26 L364.48,323.11 L364.57,322.96 L364.65,322.82 L364.73,322.67 L364.81,322.52 L364.90,322.37 L364.98,322.22 L365.06,322.07 L365.14,321.93 L365.22,321.78 L365.30,321.63 L365.38,321.48 L365.46,321.33 L365.54,321.19 L365.64,321.04 L365.78,320.89 L365.91,320.74 L366.05,320.59 L366.19,320.44 L366.33,320.30 L366.46,320.15 L366.60,320.00 L366.60,320.00 L366.77,320.15 L366.94,320.30 L367.10,320.44 L367.27,320.59 L367.44,320.74 L367.61,320.89 L367.78,321.04 L367.93,321.19 L368.08,321.33 L368.22,321.48 L368.37,321.63 L368.52,321.78 L368.66,321.93 L368.81,322.07 L368.96,322.22 L369.10,322.37 L369.25,322.52 L369.39,322.67 L369.54,322.82 L369.69,322.96 L369.80,323.11 L369.90,323.26 L370.00,323.41 L370.11,323.56 L370.21,323.71 L370.31,323.85 L370.42,324.00 L370.52,324.15 L370.62,324.30 L370.72,324.45 L370.83,324.59 L370.93,324.74 L371.03,324.89 L371.22,325.04 L371.41,325.19 L371.60,325.34 L371.79,325.48 L371.98,325.63 L372.17,325.78 L372.36,325.93 L372.55,326.08 L372.74,326.23 L372.93,326.37 L373.12,326.52 L373.31,326.67 L373.52,326.82 L373.90,326.97 L374.29,327.11 L374.68,327.26 L375.07,327.41 L375.46,327.56 L375.84,327.71 L377.21,327.86 L379.13,328.00 L381.05,328.15 L383.94,328.30 Z" fill="#33a02c"/>
<line x1="83" y1="328.3" x2="429" y2="328.3" stroke="#33a02c" stroke-width="1.3"/>
<path d="M152.85,434.40 L153.07,432.97 L153.14,431.55 L153.22,430.12 L153.32,428.69 L153.46,427.27 L153.59,425.84 L153.73,424.41 L153.87,422.99 L154.00,421.56 L154.14,420.13 L154.20,418.71 L154.25,417.28 L154.30,415.85 L154.35,414.42 L154.40,413.00 L154.45,411.57 L154.50,410.14 L154.55,408.72 L154.60,407.29 L154.65,405.86 L154.70,404.44 L154.75,403.01 L154.81,401.58 L154.87,400.16 L154.94,398.73 L155.01,397.30 L155.08,395.88 L155.15,394.45 L155.22,393.02 L155.29,391.60 L155.35,390.17 L155.42,388.74 L155.49,387.32 L155.56,385.89 L155.63,384.46 L155.70,383.04 L155.78,381.61 L155.86,380.18 L155.94,378.76 L156.02,377.33 L156.10,375.90 L156.18,374.48 L156.26,373.05 L156.33,371.62 L156.41,370.19 L156.49,368.77 L156.57,367.34 L156.65,365.91 L156.74,364.49 L156.85,363.06 L156.96,361.63 L157.07,360.21 L157.17,358.78 L157.28,357.35 L157.39,355.93 L157.50,354.50 L157.50,354.50 L157.61,355.93 L157.72,357.35 L157.83,358.78 L157.93,360.21 L158.04,361.63 L158.15,363.06 L158.26,364.49 L158.39,365.91 L158.52,367.34 L158.65,368.77 L158.79,370.19 L158.92,371.62 L159.05,373.05 L159.19,374.48 L159.32,375.90 L159.46,377.33 L159.59,378.76 L159.72,380.18 L159.86,381.61 L159.99,383.04 L160.08,384.46 L160.16,385.89 L160.24,387.32 L160.32,388.74 L160.40,390.17 L160.47,391.60 L160.55,393.02 L160.63,394.45 L160.71,395.88 L160.79,397.30 L160.87,398.73 L160.95,400.16 L161.03,401.58 L161.16,403.01 L161.30,404.44 L161.43,405.86 L161.56,407.29 L161.70,408.72 L161.83,410.14 L161.96,411.57 L162.10,413.00 L162.23,414.42 L162.36,415.85 L162.50,417.28 L162.63,418.71 L162.78,420.13 L163.04,421.56 L163.31,422.99 L163.58,424.41 L163.84,425.84 L164.11,427.27 L164.38,428.69 L164.96,430.12 L165.71,431.55 L166.47,432.97 L167.73,434.40 Z" fill="url(#g_blue)" stroke="#98c1db" stroke-width="0.9"/>
<path d="M257.45,434.40 L257.67,432.98 L257.74,431.57 L257.82,430.15 L257.92,428.74 L258.06,427.32 L258.19,425.90 L258.33,424.49 L258.47,423.07 L258.60,421.66 L258.74,420.24 L258.80,418.82 L258.85,417.41 L258.90,415.99 L258.95,414.57 L259.00,413.16 L259.05,411.74 L259.10,410.33 L259.15,408.91 L259.20,407.49 L259.25,406.08 L259.30,404.66 L259.35,403.25 L259.41,401.83 L259.47,400.41 L259.54,399.00 L259.61,397.58 L259.68,396.17 L259.75,394.75 L259.82,393.33 L259.89,391.92 L259.95,390.50 L260.02,389.09 L260.09,387.67 L260.16,386.25 L260.23,384.84 L260.30,383.42 L260.38,382.01 L260.46,380.59 L260.54,379.17 L260.62,377.76 L260.70,376.34 L260.78,374.93 L260.86,373.51 L260.93,372.09 L261.01,370.68 L261.09,369.26 L261.17,367.84 L261.25,366.43 L261.34,365.01 L261.45,363.60 L261.56,362.18 L261.67,360.76 L261.77,359.35 L261.88,357.93 L261.99,356.52 L262.10,355.10 L262.10,355.10 L262.21,356.52 L262.32,357.93 L262.43,359.35 L262.53,360.76 L262.64,362.18 L262.75,363.60 L262.86,365.01 L262.99,366.43 L263.12,367.84 L263.25,369.26 L263.39,370.68 L263.52,372.09 L263.65,373.51 L263.79,374.93 L263.92,376.34 L264.06,377.76 L264.19,379.17 L264.32,380.59 L264.46,382.01 L264.59,383.42 L264.68,384.84 L264.76,386.25 L264.84,387.67 L264.92,389.09 L265.00,390.50 L265.07,391.92 L265.15,393.33 L265.23,394.75 L265.31,396.17 L265.39,397.58 L265.47,399.00 L265.55,400.41 L265.63,401.83 L265.76,403.25 L265.90,404.66 L266.03,406.08 L266.16,407.49 L266.30,408.91 L266.43,410.33 L266.56,411.74 L266.70,413.16 L266.83,414.57 L266.96,415.99 L267.10,417.41 L267.23,418.82 L267.38,420.24 L267.64,421.66 L267.91,423.07 L268.18,424.49 L268.44,425.90 L268.71,427.32 L268.98,428.74 L269.56,430.15 L270.31,431.57 L271.07,432.98 L272.33,434.40 Z" fill="url(#g_blue)" stroke="#98c1db" stroke-width="0.9"/>
<path d="M361.85,434.40 L362.07,432.96 L362.14,431.52 L362.22,430.08 L362.32,428.64 L362.46,427.19 L362.59,425.75 L362.73,424.31 L362.87,422.87 L363.00,421.43 L363.14,419.99 L363.20,418.55 L363.25,417.11 L363.30,415.67 L363.35,414.22 L363.40,412.78 L363.45,411.34 L363.50,409.90 L363.55,408.46 L363.60,407.02 L363.65,405.58 L363.70,404.14 L363.75,402.70 L363.81,401.26 L363.87,399.81 L363.94,398.37 L364.01,396.93 L364.08,395.49 L364.15,394.05 L364.22,392.61 L364.29,391.17 L364.35,389.73 L364.42,388.29 L364.49,386.84 L364.56,385.40 L364.63,383.96 L364.70,382.52 L364.78,381.08 L364.86,379.64 L364.94,378.20 L365.02,376.76 L365.10,375.32 L365.18,373.88 L365.26,372.43 L365.33,370.99 L365.41,369.55 L365.49,368.11 L365.57,366.67 L365.65,365.23 L365.74,363.79 L365.85,362.35 L365.96,360.91 L366.07,359.46 L366.17,358.02 L366.28,356.58 L366.39,355.14 L366.50,353.70 L366.50,353.70 L366.61,355.14 L366.72,356.58 L366.83,358.02 L366.93,359.46 L367.04,360.91 L367.15,362.35 L367.26,363.79 L367.39,365.23 L367.52,366.67 L367.65,368.11 L367.79,369.55 L367.92,370.99 L368.05,372.43 L368.19,373.88 L368.32,375.32 L368.46,376.76 L368.59,378.20 L368.72,379.64 L368.86,381.08 L368.99,382.52 L369.08,383.96 L369.16,385.40 L369.24,386.84 L369.32,388.29 L369.40,389.73 L369.47,391.17 L369.55,392.61 L369.63,394.05 L369.71,395.49 L369.79,396.93 L369.87,398.37 L369.95,399.81 L370.03,401.26 L370.16,402.70 L370.30,404.14 L370.43,405.58 L370.56,407.02 L370.70,408.46 L370.83,409.90 L370.96,411.34 L371.10,412.78 L371.23,414.22 L371.36,415.67 L371.50,417.11 L371.63,418.55 L371.78,419.99 L372.04,421.43 L372.31,422.87 L372.58,424.31 L372.84,425.75 L373.11,427.19 L373.38,428.64 L373.96,430.08 L374.71,431.52 L375.47,432.96 L376.73,434.40 Z" fill="url(#g_blue)" stroke="#98c1db" stroke-width="0.9"/>
<path d="M152.45,434.40 L152.67,434.31 L152.75,434.21 L152.83,434.12 L152.93,434.02 L153.07,433.93 L153.21,433.83 L153.35,433.74 L153.49,433.64 L153.63,433.55 L153.77,433.45 L153.83,433.36 L153.88,433.26 L153.93,433.17 L153.98,433.07 L154.03,432.98 L154.09,432.89 L154.14,432.79 L154.19,432.70 L154.24,432.60 L154.29,432.51 L154.34,432.41 L154.40,432.32 L154.45,432.22 L154.52,432.13 L154.59,432.03 L154.66,431.94 L154.73,431.84 L154.80,431.75 L154.87,431.66 L154.94,431.56 L155.01,431.47 L155.08,431.37 L155.15,431.28 L155.22,431.18 L155.29,431.09 L155.36,430.99 L155.44,430.90 L155.52,430.80 L155.60,430.71 L155.69,430.61 L155.77,430.52 L155.85,430.43 L155.93,430.33 L156.01,430.24 L156.09,430.14 L156.17,430.05 L156.25,429.95 L156.33,429.86 L156.42,429.76 L156.53,429.67 L156.65,429.57 L156.76,429.48 L156.87,429.38 L156.98,429.29 L157.09,429.19 L157.20,429.10 L157.20,429.10 L157.32,429.19 L157.44,429.29 L157.56,429.38 L157.68,429.48 L157.80,429.57 L157.91,429.67 L158.03,429.76 L158.17,429.86 L158.32,429.95 L158.47,430.05 L158.61,430.14 L158.76,430.24 L158.91,430.33 L159.05,430.43 L159.20,430.52 L159.34,430.61 L159.49,430.71 L159.64,430.80 L159.78,430.90 L159.93,430.99 L160.03,431.09 L160.11,431.18 L160.20,431.28 L160.29,431.37 L160.38,431.47 L160.46,431.56 L160.55,431.66 L160.64,431.75 L160.72,431.84 L160.81,431.94 L160.90,432.03 L160.99,432.13 L161.07,432.22 L161.22,432.32 L161.36,432.41 L161.51,432.51 L161.66,432.60 L161.80,432.70 L161.95,432.79 L162.10,432.89 L162.24,432.98 L162.39,433.07 L162.54,433.17 L162.68,433.26 L162.83,433.36 L162.99,433.45 L163.28,433.55 L163.57,433.64 L163.87,433.74 L164.16,433.83 L164.45,433.93 L164.74,434.02 L165.38,434.12 L166.21,434.21 L167.04,434.31 L168.42,434.40 Z" fill="#1f78b4"/>
<path d="M257.05,434.40 L257.27,434.29 L257.35,434.19 L257.43,434.08 L257.53,433.98 L257.67,433.87 L257.81,433.77 L257.95,433.66 L258.09,433.56 L258.23,433.45 L258.37,433.35 L258.43,433.24 L258.48,433.14 L258.53,433.03 L258.58,432.92 L258.63,432.82 L258.69,432.71 L258.74,432.61 L258.79,432.50 L258.84,432.40 L258.89,432.29 L258.94,432.19 L259.00,432.08 L259.05,431.98 L259.12,431.87 L259.19,431.77 L259.26,431.66 L259.33,431.56 L259.40,431.45 L259.47,431.34 L259.54,431.24 L259.61,431.13 L259.68,431.03 L259.75,430.92 L259.82,430.82 L259.89,430.71 L259.96,430.61 L260.04,430.50 L260.12,430.40 L260.20,430.29 L260.29,430.19 L260.37,430.08 L260.45,429.98 L260.53,429.87 L260.61,429.76 L260.69,429.66 L260.77,429.55 L260.85,429.45 L260.93,429.34 L261.02,429.24 L261.13,429.13 L261.25,429.03 L261.36,428.92 L261.47,428.82 L261.58,428.71 L261.69,428.61 L261.80,428.50 L261.80,428.50 L261.92,428.61 L262.04,428.71 L262.16,428.82 L262.28,428.92 L262.40,429.03 L262.51,429.13 L262.63,429.24 L262.77,429.34 L262.92,429.45 L263.07,429.55 L263.21,429.66 L263.36,429.76 L263.51,429.87 L263.65,429.98 L263.80,430.08 L263.94,430.19 L264.09,430.29 L264.24,430.40 L264.38,430.50 L264.53,430.61 L264.63,430.71 L264.71,430.82 L264.80,430.92 L264.89,431.03 L264.98,431.13 L265.06,431.24 L265.15,431.34 L265.24,431.45 L265.32,431.56 L265.41,431.66 L265.50,431.77 L265.59,431.87 L265.67,431.98 L265.82,432.08 L265.96,432.19 L266.11,432.29 L266.26,432.40 L266.40,432.50 L266.55,432.61 L266.70,432.71 L266.84,432.82 L266.99,432.92 L267.14,433.03 L267.28,433.14 L267.43,433.24 L267.59,433.35 L267.88,433.45 L268.17,433.56 L268.47,433.66 L268.76,433.77 L269.05,433.87 L269.34,433.98 L269.98,434.08 L270.81,434.19 L271.64,434.29 L273.02,434.40 Z" fill="#1f78b4"/>
<path d="M361.45,434.40 L361.67,434.29 L361.75,434.17 L361.83,434.06 L361.93,433.94 L362.07,433.83 L362.21,433.71 L362.35,433.60 L362.49,433.49 L362.63,433.37 L362.77,433.26 L362.83,433.14 L362.88,433.03 L362.93,432.91 L362.98,432.80 L363.03,432.69 L363.09,432.57 L363.14,432.46 L363.19,432.34 L363.24,432.23 L363.29,432.11 L363.34,432.00 L363.40,431.89 L363.45,431.77 L363.52,431.66 L363.59,431.54 L363.66,431.43 L363.73,431.31 L363.80,431.20 L363.87,431.09 L363.94,430.97 L364.01,430.86 L364.08,430.74 L364.15,430.63 L364.22,430.51 L364.29,430.40 L364.36,430.29 L364.44,430.17 L364.52,430.06 L364.60,429.94 L364.69,429.83 L364.77,429.71 L364.85,429.60 L364.93,429.49 L365.01,429.37 L365.09,429.26 L365.17,429.14 L365.25,429.03 L365.33,428.91 L365.42,428.80 L365.53,428.69 L365.65,428.57 L365.76,428.46 L365.87,428.34 L365.98,428.23 L366.09,428.11 L366.20,428.00 L366.20,428.00 L366.32,428.11 L366.44,428.23 L366.56,428.34 L366.68,428.46 L366.80,428.57 L366.91,428.69 L367.03,428.80 L367.17,428.91 L367.32,429.03 L367.47,429.14 L367.61,429.26 L367.76,429.37 L367.91,429.49 L368.05,429.60 L368.20,429.71 L368.34,429.83 L368.49,429.94 L368.64,430.06 L368.78,430.17 L368.93,430.29 L369.03,430.40 L369.11,430.51 L369.20,430.63 L369.29,430.74 L369.38,430.86 L369.46,430.97 L369.55,431.09 L369.64,431.20 L369.72,431.31 L369.81,431.43 L369.90,431.54 L369.99,431.66 L370.07,431.77 L370.22,431.89 L370.36,432.00 L370.51,432.11 L370.66,432.23 L370.80,432.34 L370.95,432.46 L371.10,432.57 L371.24,432.69 L371.39,432.80 L371.54,432.91 L371.68,433.03 L371.83,433.14 L371.99,433.26 L372.28,433.37 L372.57,433.49 L372.87,433.60 L373.16,433.71 L373.45,433.83 L373.74,433.94 L374.38,434.06 L375.21,434.17 L376.04,434.29 L377.42,434.40 Z" fill="#1f78b4"/>
<line x1="83" y1="434.4" x2="429" y2="434.4" stroke="#1f78b4" stroke-width="1.3"/>
<line x1="216" y1="119.4" x2="248" y2="119.4" stroke="#6a3d9a" stroke-width="1"/>
<line x1="284" y1="119.4" x2="300" y2="119.4" stroke="#6a3d9a" stroke-width="1"/>
<line x1="315" y1="329.2" x2="361" y2="329.2" stroke="#33a02c" stroke-width="1"/>
<line x1="378" y1="329.2" x2="429" y2="329.2" stroke="#33a02c" stroke-width="1"/>
<line x1="120" y1="224.3" x2="126" y2="224.3" stroke="#e31a1c" stroke-width="1"/>
<line x1="290.6" y1="433.5" x2="301" y2="433.5" stroke="#1f78b4" stroke-width="1"/>
<line x1="350" y1="433.5" x2="356" y2="433.5" stroke="#1f78b4" stroke-width="1"/>
<line x1="405" y1="433.5" x2="410.7" y2="433.5" stroke="#1f78b4" stroke-width="1"/>
<line x1="418" y1="433.5" x2="424" y2="433.5" stroke="#1f78b4" stroke-width="1"/>
<line x1="139.5" y1="434.5" x2="139.5" y2="432.8" stroke="#1f78b4" stroke-width="0.7" opacity="0.8"/>
<line x1="151.5" y1="434.5" x2="151.5" y2="432.8" stroke="#1f78b4" stroke-width="0.7" opacity="0.8"/>
<line x1="208.5" y1="434.5" x2="208.5" y2="432.8" stroke="#1f78b4" stroke-width="0.7" opacity="0.8"/>
<line x1="214.2" y1="434.5" x2="214.2" y2="432.8" stroke="#1f78b4" stroke-width="0.7" opacity="0.8"/>
<line x1="218.9" y1="434.5" x2="218.9" y2="432.8" stroke="#1f78b4" stroke-width="0.7" opacity="0.8"/>
<line x1="220.8" y1="434.5" x2="220.8" y2="432.8" stroke="#1f78b4" stroke-width="0.7" opacity="0.8"/>
<line x1="228.4" y1="434.5" x2="228.4" y2="432.8" stroke="#1f78b4" stroke-width="0.7" opacity="0.8"/>
<line x1="236.9" y1="434.5" x2="236.9" y2="432.8" stroke="#1f78b4" stroke-width="0.7" opacity="0.8"/>
<line x1="240.7" y1="434.5" x2="240.7" y2="432.8" stroke="#1f78b4" stroke-width="0.7" opacity="0.8"/>
<line x1="246.4" y1="434.5" x2="246.4" y2="432.8" stroke="#1f78b4" stroke-width="0.7" opacity="0.8"/>
<line x1="248.2" y1="434.5" x2="248.2" y2="432.8" stroke="#1f78b4" stroke-width="0.7" opacity="0.8"/>
<line x1="250.1" y1="434.5" x2="250.1" y2="432.8" stroke="#1f78b4" stroke-width="0.7" opacity="0.8"/>
<line x1="251" y1="434.5" x2="251" y2="432.8" stroke="#1f78b4" stroke-width="0.7" opacity="0.8"/>
<line x1="303" y1="434.5" x2="303" y2="432.8" stroke="#1f78b4" stroke-width="0.7" opacity="0.8"/>
<line x1="307" y1="434.5" x2="307" y2="432.8" stroke="#1f78b4" stroke-width="0.7" opacity="0.8"/>
<line x1="311" y1="434.5" x2="311" y2="432.8" stroke="#1f78b4" stroke-width="0.7" opacity="0.8"/>
<line x1="316" y1="434.5" x2="316" y2="432.8" stroke="#1f78b4" stroke-width="0.7" opacity="0.8"/>
<line x1="320" y1="434.5" x2="320" y2="432.8" stroke="#1f78b4" stroke-width="0.7" opacity="0.8"/>
<line x1="324" y1="434.5" x2="324" y2="432.8" stroke="#1f78b4" stroke-width="0.7" opacity="0.8"/>
<line x1="329" y1="434.5" x2="329" y2="432.8" stroke="#1f78b4" stroke-width="0.7" opacity="0.8"/>
<line x1="333" y1="434.5" x2="333" y2="432.8" stroke="#1f78b4" stroke-width="0.7" opacity="0.8"/>
<line x1="338" y1="434.5" x2="338" y2="432.8" stroke="#1f78b4" stroke-width="0.7" opacity="0.8"/>
<line x1="342" y1="434.5" x2="342" y2="432.8" stroke="#1f78b4" stroke-width="0.7" opacity="0.8"/>
<line x1="346" y1="434.5" x2="346" y2="432.8" stroke="#1f78b4" stroke-width="0.7" opacity="0.8"/>
<text transform="translate(87.50,39.70) scale(0.9609,1)" font-size="21.85" fill="#6a3d9a" stroke="#6a3d9a" stroke-width="0.3">FeMn-Na</text>
<text transform="translate(199.60,40.00) scale(0.9609,1)" font-size="21.85" fill="#6a3d9a" stroke="#6a3d9a" stroke-width="0.3">R=7.2</text>
<text transform="translate(382.20,41.90) scale(0.9609,1)" font-size="18.21" fill="#cab2d6" stroke="#cab2d6" stroke-width="0.3">C<tspan font-size="12.90" dy="4.6">3</tspan><tspan dy="-4.6">H</tspan><tspan font-size="12.90" dy="4.6">6</tspan></text>
<text transform="translate(382.20,67.70) scale(0.9609,1)" font-size="18.21" fill="#6a3d9a" stroke="#6a3d9a" stroke-width="0.3">C<tspan font-size="12.90" dy="4.6">3</tspan><tspan dy="-4.6">H</tspan><tspan font-size="12.90" dy="4.6">8</tspan></text>
<text transform="translate(87.50,138.70) scale(0.9609,1)" font-size="21.85" fill="#e31a1c" stroke="#e31a1c" stroke-width="0.3">FeCu-Na</text>
<text transform="translate(196.50,138.70) scale(0.9609,1)" font-size="21.85" fill="#e31a1c" stroke="#e31a1c" stroke-width="0.3">R=4.8</text>
<text transform="translate(382.20,147.80) scale(0.9609,1)" font-size="18.21" fill="#fb9a99" stroke="#fb9a99" stroke-width="0.3">C<tspan font-size="12.90" dy="4.6">3</tspan><tspan dy="-4.6">H</tspan><tspan font-size="12.90" dy="4.6">6</tspan></text>
<text transform="translate(382.20,173.60) scale(0.9609,1)" font-size="18.21" fill="#e31a1c" stroke="#e31a1c" stroke-width="0.3">C<tspan font-size="12.90" dy="4.6">3</tspan><tspan dy="-4.6">H</tspan><tspan font-size="12.90" dy="4.6">8</tspan></text>
<text transform="translate(87.50,243.60) scale(0.9609,1)" font-size="21.85" fill="#33a02c" stroke="#33a02c" stroke-width="0.3">FeZn-Na</text>
<text transform="translate(194.80,243.60) scale(0.9609,1)" font-size="21.85" fill="#33a02c" stroke="#33a02c" stroke-width="0.3">R=10.8</text>
<text transform="translate(382.20,252.20) scale(0.9609,1)" font-size="18.21" fill="#b2df8a" stroke="#b2df8a" stroke-width="0.3">C<tspan font-size="12.90" dy="4.6">3</tspan><tspan dy="-4.6">H</tspan><tspan font-size="12.90" dy="4.6">6</tspan></text>
<text transform="translate(382.20,278.00) scale(0.9609,1)" font-size="18.21" fill="#33a02c" stroke="#33a02c" stroke-width="0.3">C<tspan font-size="12.90" dy="4.6">3</tspan><tspan dy="-4.6">H</tspan><tspan font-size="12.90" dy="4.6">8</tspan></text>
<text transform="translate(87.50,347.60) scale(0.9609,1)" font-size="21.85" fill="#1f78b4" stroke="#1f78b4" stroke-width="0.3">Fe-Na</text>
<text transform="translate(193.70,347.60) scale(0.9609,1)" font-size="21.85" fill="#1f78b4" stroke="#1f78b4" stroke-width="0.3">R=9.0</text>
<text transform="translate(382.20,357.80) scale(0.9609,1)" font-size="18.21" fill="#a6cee3" stroke="#a6cee3" stroke-width="0.3">C<tspan font-size="12.90" dy="4.6">3</tspan><tspan dy="-4.6">H</tspan><tspan font-size="12.90" dy="4.6">6</tspan></text>
<text transform="translate(382.20,383.60) scale(0.9609,1)" font-size="18.21" fill="#1f78b4" stroke="#1f78b4" stroke-width="0.3">C<tspan font-size="12.90" dy="4.6">3</tspan><tspan dy="-4.6">H</tspan><tspan font-size="12.90" dy="4.6">8</tspan></text>
<rect x="82" y="20" width="348" height="421" fill="none" stroke="#000" stroke-width="2"/>
<line x1="82.00" y1="441" x2="82.00" y2="448" stroke="#000" stroke-width="2"/>
<text transform="translate(81.30,468.60) scale(0.9609,1)" font-size="21.33" fill="#000" text-anchor="middle" stroke="#000" stroke-width="0.3">0</text>
<line x1="116.80" y1="441" x2="116.80" y2="445" stroke="#000" stroke-width="2"/>
<line x1="151.60" y1="441" x2="151.60" y2="448" stroke="#000" stroke-width="2"/>
<text transform="translate(150.90,468.60) scale(0.9609,1)" font-size="21.33" fill="#000" text-anchor="middle" stroke="#000" stroke-width="0.3">4</text>
<line x1="186.40" y1="441" x2="186.40" y2="445" stroke="#000" stroke-width="2"/>
<line x1="221.20" y1="441" x2="221.20" y2="448" stroke="#000" stroke-width="2"/>
<text transform="translate(220.50,468.60) scale(0.9609,1)" font-size="21.33" fill="#000" text-anchor="middle" stroke="#000" stroke-width="0.3">8</text>
<line x1="256.00" y1="441" x2="256.00" y2="445" stroke="#000" stroke-width="2"/>
<line x1="290.80" y1="441" x2="290.80" y2="448" stroke="#000" stroke-width="2"/>
<text transform="translate(290.10,468.60) scale(0.9609,1)" font-size="21.33" fill="#000" text-anchor="middle" stroke="#000" stroke-width="0.3">12</text>
<line x1="325.60" y1="441" x2="325.60" y2="445" stroke="#000" stroke-width="2"/>
<line x1="360.40" y1="441" x2="360.40" y2="448" stroke="#000" stroke-width="2"/>
<text transform="translate(359.70,468.60) scale(0.9609,1)" font-size="21.33" fill="#000" text-anchor="middle" stroke="#000" stroke-width="0.3">16</text>
<line x1="395.20" y1="441" x2="395.20" y2="445" stroke="#000" stroke-width="2"/>
<line x1="430.00" y1="441" x2="430.00" y2="448" stroke="#000" stroke-width="2"/>
<text transform="translate(429.30,468.60) scale(0.9609,1)" font-size="21.33" fill="#000" text-anchor="middle" stroke="#000" stroke-width="0.3">20</text>
<text transform="translate(256.00,492.70) scale(0.9609,1)" font-size="23.42" fill="#000" text-anchor="middle" stroke="#000" stroke-width="0.3">Time (min)</text>
<text transform="translate(71.00,230.20) rotate(-90) scale(0.9609,1)" font-size="23.42" fill="#000" text-anchor="middle" stroke="#000" stroke-width="0.3">Intensity (a.u.)</text>
<text transform="translate(11.40,41.50) scale(0.9609,1)" font-size="30.60" fill="#000" letter-spacing="2.08" stroke="#000" stroke-width="0.3">(a)</text>
<rect x="887.57" y="51.50" width="11" height="11" fill="#fff" stroke="#33a02c" stroke-width="1.15"/>
<rect x="887.57" y="51.50" width="11" height="5.5" fill="#33a02c"/>
<text transform="translate(791.70,59.80) scale(0.9609,1)" font-size="19.77" fill="#33a02c" stroke="#33a02c" stroke-width="0.3">FeZn-Na</text>
<rect x="798.17" y="96.98" width="11" height="11" fill="#fff" stroke="#1f78b4" stroke-width="1.15"/>
<rect x="798.17" y="96.98" width="11" height="5.5" fill="#1f78b4"/>
<text transform="translate(732.60,105.60) scale(0.9609,1)" font-size="19.77" fill="#1f78b4" stroke="#1f78b4" stroke-width="0.3">Fe-Na</text>
<rect x="708.77" y="278.90" width="11" height="11" fill="#fff" stroke="#6a3d9a" stroke-width="1.15"/>
<rect x="708.77" y="278.90" width="11" height="5.5" fill="#6a3d9a"/>
<text transform="translate(731.80,289.00) scale(0.9609,1)" font-size="19.77" fill="#6a3d9a" stroke="#6a3d9a" stroke-width="0.3">FeMn-Na</text>
<rect x="589.57" y="385.02" width="11" height="11" fill="#fff" stroke="#e31a1c" stroke-width="1.15"/>
<rect x="589.57" y="385.02" width="11" height="5.5" fill="#e31a1c"/>
<text transform="translate(614.50,393.40) scale(0.9609,1)" font-size="19.77" fill="#e31a1c" stroke="#e31a1c" stroke-width="0.3">FeCu-Na</text>
<line x1="594.3" y1="398.6" x2="893.9" y2="37" stroke="#333" stroke-width="1.8" stroke-dasharray="7.5 2.6 1.6 2.8"/>
<rect x="580" y="19" width="348" height="417" fill="none" stroke="#000" stroke-width="2"/>
<line x1="580.17" y1="436" x2="580.17" y2="440" stroke="#000" stroke-width="2"/>
<line x1="605.00" y1="436" x2="605.00" y2="443" stroke="#000" stroke-width="2"/>
<text transform="translate(603.70,462.30) scale(0.9609,1)" font-size="21.33" fill="#000" text-anchor="middle" stroke="#000" stroke-width="0.3">5</text>
<line x1="629.83" y1="436" x2="629.83" y2="440" stroke="#000" stroke-width="2"/>
<line x1="654.67" y1="436" x2="654.67" y2="443" stroke="#000" stroke-width="2"/>
<text transform="translate(653.37,462.30) scale(0.9609,1)" font-size="21.33" fill="#000" text-anchor="middle" stroke="#000" stroke-width="0.3">6</text>
<line x1="679.50" y1="436" x2="679.50" y2="440" stroke="#000" stroke-width="2"/>
<line x1="704.33" y1="436" x2="704.33" y2="443" stroke="#000" stroke-width="2"/>
<text transform="translate(703.03,462.30) scale(0.9609,1)" font-size="21.33" fill="#000" text-anchor="middle" stroke="#000" stroke-width="0.3">7</text>
<line x1="729.17" y1="436" x2="729.17" y2="440" stroke="#000" stroke-width="2"/>
<line x1="754.00" y1="436" x2="754.00" y2="443" stroke="#000" stroke-width="2"/>
<text transform="translate(752.70,462.30) scale(0.9609,1)" font-size="21.33" fill="#000" text-anchor="middle" stroke="#000" stroke-width="0.3">8</text>
<line x1="778.83" y1="436" x2="778.83" y2="440" stroke="#000" stroke-width="2"/>
<line x1="803.67" y1="436" x2="803.67" y2="443" stroke="#000" stroke-width="2"/>
<text transform="translate(802.37,462.30) scale(0.9609,1)" font-size="21.33" fill="#000" text-anchor="middle" stroke="#000" stroke-width="0.3">9</text>
<line x1="828.50" y1="436" x2="828.50" y2="440" stroke="#000" stroke-width="2"/>
<line x1="853.34" y1="436" x2="853.34" y2="443" stroke="#000" stroke-width="2"/>
<text transform="translate(852.04,462.30) scale(0.9609,1)" font-size="21.33" fill="#000" text-anchor="middle" stroke="#000" stroke-width="0.3">10</text>
<line x1="878.17" y1="436" x2="878.17" y2="440" stroke="#000" stroke-width="2"/>
<line x1="903.00" y1="436" x2="903.00" y2="443" stroke="#000" stroke-width="2"/>
<text transform="translate(901.70,462.30) scale(0.9609,1)" font-size="21.33" fill="#000" text-anchor="middle" stroke="#000" stroke-width="0.3">11</text>
<line x1="927.84" y1="436" x2="927.84" y2="440" stroke="#000" stroke-width="2"/>
<line x1="580" y1="436.00" x2="573" y2="436.00" stroke="#000" stroke-width="2"/>
<text transform="translate(567.80,442.10) scale(0.9609,1)" font-size="21.33" fill="#000" text-anchor="end" stroke="#000" stroke-width="0.3">3.0</text>
<line x1="580" y1="398.10" x2="576" y2="398.10" stroke="#000" stroke-width="2"/>
<line x1="580" y1="360.20" x2="573" y2="360.20" stroke="#000" stroke-width="2"/>
<text transform="translate(567.80,366.30) scale(0.9609,1)" font-size="21.33" fill="#000" text-anchor="end" stroke="#000" stroke-width="0.3">3.5</text>
<line x1="580" y1="322.30" x2="576" y2="322.30" stroke="#000" stroke-width="2"/>
<line x1="580" y1="284.40" x2="573" y2="284.40" stroke="#000" stroke-width="2"/>
<text transform="translate(567.80,290.50) scale(0.9609,1)" font-size="21.33" fill="#000" text-anchor="end" stroke="#000" stroke-width="0.3">4.0</text>
<line x1="580" y1="246.50" x2="576" y2="246.50" stroke="#000" stroke-width="2"/>
<line x1="580" y1="208.60" x2="573" y2="208.60" stroke="#000" stroke-width="2"/>
<text transform="translate(567.80,214.70) scale(0.9609,1)" font-size="21.33" fill="#000" text-anchor="end" stroke="#000" stroke-width="0.3">4.5</text>
<line x1="580" y1="170.70" x2="576" y2="170.70" stroke="#000" stroke-width="2"/>
<line x1="580" y1="132.80" x2="573" y2="132.80" stroke="#000" stroke-width="2"/>
<text transform="translate(567.80,138.90) scale(0.9609,1)" font-size="21.33" fill="#000" text-anchor="end" stroke="#000" stroke-width="0.3">5.0</text>
<line x1="580" y1="94.90" x2="576" y2="94.90" stroke="#000" stroke-width="2"/>
<line x1="580" y1="57.00" x2="573" y2="57.00" stroke="#000" stroke-width="2"/>
<text transform="translate(567.80,63.10) scale(0.9609,1)" font-size="21.33" fill="#000" text-anchor="end" stroke="#000" stroke-width="0.3">5.5</text>
<line x1="580" y1="19.10" x2="576" y2="19.10" stroke="#000" stroke-width="2"/>
<text transform="translate(751.30,488.00) scale(0.9609,1)" font-size="23.73" fill="#000" text-anchor="middle" stroke="#000" stroke-width="0.3">The ratio of A(C<tspan font-size="15.61" dy="6">3</tspan><tspan dy="-6">H</tspan><tspan font-size="15.61" dy="6">6</tspan><tspan dy="-6">) to A(C</tspan><tspan font-size="15.61" dy="6">3</tspan><tspan dy="-6">H</tspan><tspan font-size="15.61" dy="6">8</tspan><tspan dy="-6">)</tspan></text>
<text transform="translate(526.50,227.50) rotate(-90) scale(0.9609,1)" font-size="23.42" fill="#000" text-anchor="middle" stroke="#000" stroke-width="0.3">The o/p ratio in C<tspan font-size="15.61" dy="6">2-4</tspan><tspan dy="-6"> range</tspan></text>
<text transform="translate(486.40,41.60) scale(0.9609,1)" font-size="30.60" fill="#000" letter-spacing="2.08" stroke="#000" stroke-width="0.3">(b)</text>
</svg></body></html>
